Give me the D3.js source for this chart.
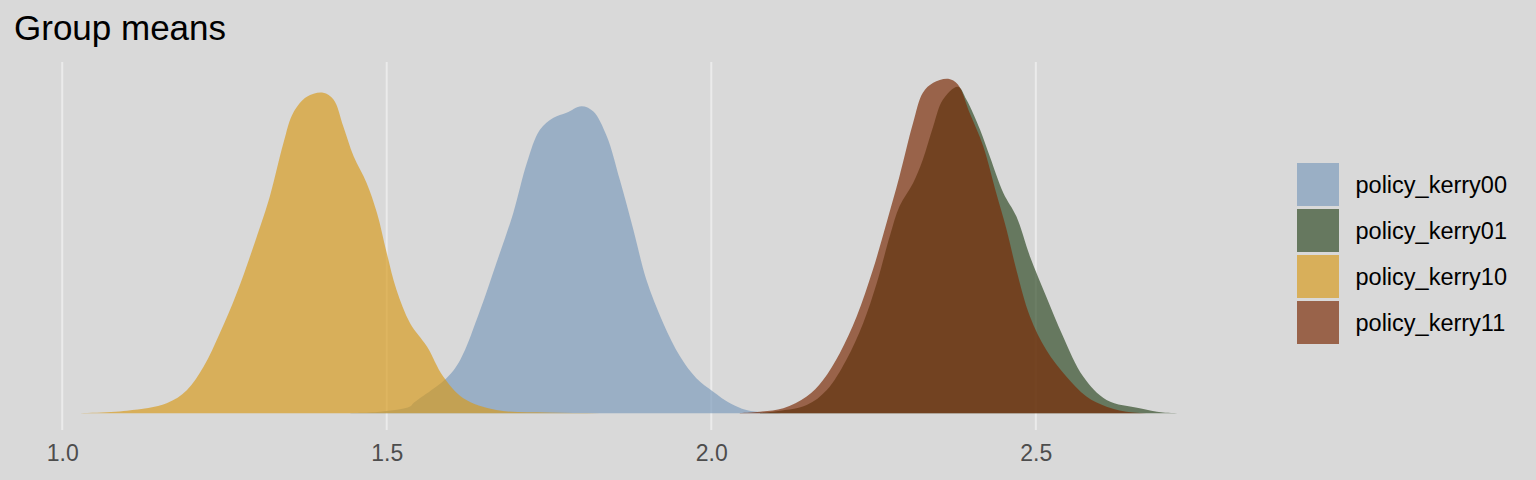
<!DOCTYPE html>
<html>
<head>
<meta charset="utf-8">
<script src="https://cdn.jsdelivr.net/npm/d3@7"></script>
<style>
  html, body { margin: 0; padding: 0; background: #d9d9d9; }
  svg { display: block; }
  text { font-family: "Liberation Sans", Arial, Helvetica, sans-serif; }
</style>
</head>
<body>
<svg id="chart" width="1536" height="480"></svg>
<script>
// ---- data ----
const seriesNames = ["policy_kerry00", "policy_kerry01", "policy_kerry10", "policy_kerry11"];
const seriesColors = ["#7b99ba", "#2c4723", "#d7991b", "#792903"];
const xTicks = [1.0, 1.5, 2.0, 2.5];
const xTickLabels = ["1.0", "1.5", "2.0", "2.5"];
const titleText = "Group means";

// density curves: [x, density]
const kerry00 = [
  [1.433,0],[1.490,0.022],[1.536,0.10],[1.541,0.15],[1.592,0.524],[1.613,0.794],[1.644,1.542],
  [1.669,2.246],[1.695,2.994],[1.716,3.743],[1.736,4.237],[1.757,4.416],[1.777,4.491],
  [1.800,4.590],[1.818,4.515],[1.839,4.141],[1.859,3.493],[1.880,2.744],[1.900,1.996],
  [1.926,1.347],[1.952,0.847],[1.977,0.524],[2.003,0.323],[2.029,0.150],[2.054,0.049],
  [2.090,0.007],[2.136,0]
];
const kerry01 = [
  [2.075,0.005],[2.095,0.024],[2.147,0.124],[2.178,0.349],[2.208,0.798],[2.234,1.347],
  [2.255,1.946],[2.275,2.644],[2.290,3.093],[2.311,3.443],[2.326,3.792],[2.342,4.290],
  [2.357,4.690],[2.380,4.880],[2.393,4.690],[2.414,4.241],[2.429,3.841],[2.450,3.293],
  [2.470,2.943],[2.491,2.344],[2.516,1.745],[2.542,1.147],[2.573,0.548],[2.609,0.199],
  [2.660,0.075],[2.696,0.010],[2.745,0]
];
const kerry10 = [
  [1.013,0],[1.100,0.039],[1.161,0.150],[1.192,0.344],[1.218,0.698],[1.243,1.198],
  [1.269,1.796],[1.300,2.644],[1.320,3.243],[1.341,4.042],[1.356,4.491],[1.377,4.731],
  [1.402,4.790],[1.418,4.690],[1.433,4.290],[1.449,3.841],[1.469,3.443],[1.485,2.994],
  [1.500,2.395],[1.515,1.846],[1.536,1.347],[1.562,0.997],[1.587,0.548],[1.618,0.225],
  [1.669,0.049],[1.746,0.010],[1.829,0.002],[1.905,0]
];
const kerry11 = [
  [2.044,0.005],[2.075,0.024],[2.111,0.075],[2.147,0.249],[2.172,0.494],[2.198,0.898],
  [2.224,1.446],[2.249,2.145],[2.270,2.844],[2.290,3.542],[2.311,4.341],[2.326,4.790],
  [2.342,4.940],[2.365,5.000],[2.380,4.915],[2.398,4.491],[2.419,3.991],[2.439,3.293],
  [2.455,2.744],[2.470,2.145],[2.491,1.446],[2.516,0.948],[2.547,0.548],[2.578,0.249],
  [2.609,0.099],[2.650,0.010],[2.691,0.0015],[2.722,0]
];
const seriesData = [kerry00, kerry01, kerry10, kerry11];

// ---- layout ----
const svg = d3.select("#chart");
const panel = { left: 13.5, right: 1250, top: 62, bottom: 430 };
const fillOpacity = 0.67;

const allPts = seriesData.flat();
const yMax = d3.max(allPts, d => d[1]);

const x = d3.scaleLinear().domain([0.925, 2.83]).range([panel.left, panel.right]);
const y = d3.scaleLinear().domain([-0.05 * yMax, yMax * 1.05]).range([panel.bottom, panel.top]);

// background
svg.append("rect").attr("width", 1536).attr("height", 480).attr("fill", "#d9d9d9");

// grid lines
svg.append("g").selectAll("line").data(xTicks).join("line")
  .attr("x1", d => x(d)).attr("x2", d => x(d))
  .attr("y1", panel.top).attr("y2", panel.bottom)
  .attr("stroke", "#ebebeb").attr("stroke-width", 2);

// density areas
const area = d3.area()
  .x(d => x(d[0]))
  .y0(y(0))
  .y1(d => Math.min(y(0), y(d[1])))
  .curve(d3.curveCatmullRom.alpha(0.5));

svg.append("g").selectAll("path").data(seriesData).join("path")
  .attr("d", d => area(d))
  .attr("fill", (d, i) => seriesColors[i])
  .attr("fill-opacity", fillOpacity)
  .attr("stroke", "none");

// x axis (labels only)
const xAxis = d3.axisBottom(x).tickValues(xTicks)
  .tickFormat((d, i) => xTickLabels[i]).tickSize(0).tickPadding(0);
const gx = svg.append("g").attr("transform", `translate(0,${panel.bottom})`).call(xAxis);
gx.select(".domain").remove();
gx.selectAll("text")
  .attr("y", 31).attr("dy", null)
  .attr("fill", "#4d4d4d")
  .style("font-size", "23px")
  .style("font-family", '"Liberation Sans", Arial, sans-serif');

// title
svg.append("text").attr("x", 14).attr("y", 39.5)
  .attr("fill", "#000").style("font-size", "35px")
  .text(titleText);

// legend
const legend = svg.append("g").attr("transform", "translate(1297,163)");
const keyW = 42, keyH = 43, step = 46;
const items = legend.selectAll("g").data(seriesNames).join("g")
  .attr("transform", (d, i) => `translate(0,${i * step})`);
items.append("rect").attr("width", keyW).attr("height", keyH)
  .attr("fill", (d, i) => seriesColors[i]).attr("fill-opacity", fillOpacity);
items.append("text").attr("x", 58.5).attr("y", keyH / 2 + 8)
  .attr("fill", "#000").style("font-size", "23.5px")
  .text(d => d);
</script>
</body>
</html>
